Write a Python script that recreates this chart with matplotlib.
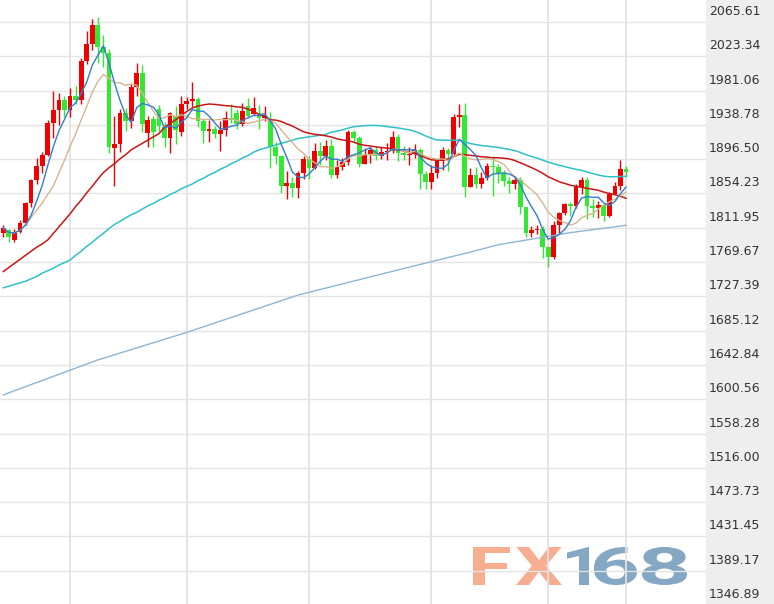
import numpy as np
import pandas as pd
import matplotlib
matplotlib.use('Agg')
import matplotlib.pyplot as plt
from matplotlib import transforms
from matplotlib.textpath import TextPath
from matplotlib.patches import PathPatch
from matplotlib.font_manager import FontProperties

# daily gold candles, 2020-07-15 .. 2020-12-18
dates = pd.bdate_range('2020-07-15', '2020-12-18')
opens = [1806, 1809, 1797, 1807, 1818, 1842, 1871, 1888, 1902, 1941, 1957, 1970, 1957,
         1975, 1969, 2018, 2038, 2062, 2035, 2028, 1910, 1915, 1954, 1944, 1985, 2003, 1929, 1946,
         1958, 1936, 1922, 1950, 1930, 1964,
         1968, 1971, 1944, 1931, 1934, 1928, 1932, 1947, 1954, 1940, 1962, 1952, 1953, 1947,
         1944, 1911, 1900, 1864, 1867, 1861, 1880, 1897,
         1886, 1906, 1900, 1913, 1877, 1887, 1893, 1930, 1922, 1891, 1902, 1908, 1900, 1905,
         1907, 1924, 1904, 1902, 1903, 1908, 1878, 1868,
         1879, 1894, 1908, 1903, 1949, 1951, 1862, 1877, 1866, 1873, 1888, 1887, 1880, 1870,
         1866, 1871, 1837, 1806, 1809, 1811, 1788,
         1776, 1815, 1830, 1841, 1839, 1862, 1871, 1839, 1836, 1840, 1827, 1854, 1864, 1885]
highs = [1815, 1811, 1810, 1821, 1844, 1872, 1898, 1905, 1945, 1981, 1978, 1975, 1984,
         1987, 2021, 2055, 2069, 2072, 2049, 2032, 1950, 1958, 1960, 1989, 2015, 2013, 1950, 1950,
         1963, 1942, 1955, 1962, 1975, 1973,
         1992, 1973, 1946, 1945, 1937, 1944, 1956, 1965, 1958, 1966, 1972, 1973, 1963, 1962,
         1955, 1918, 1901, 1882, 1875, 1882, 1900, 1901,
         1916, 1918, 1920, 1921, 1895, 1898, 1933, 1933, 1925, 1910, 1912, 1913, 1912, 1916,
         1931, 1928, 1913, 1912, 1915, 1910, 1882, 1889,
         1897, 1911, 1910, 1952, 1965, 1966, 1886, 1887, 1881, 1892, 1900, 1891, 1883, 1874,
         1876, 1875, 1838, 1814, 1815, 1814, 1790,
         1820, 1832, 1843, 1844, 1866, 1875, 1875, 1848, 1845, 1843, 1856, 1868, 1896, 1888]
lows = [1800, 1795, 1794, 1805, 1815, 1838, 1866, 1880, 1900, 1923, 1939, 1948, 1948,
        1964, 1964, 2014, 2031, 2015, 2010, 1904, 1863, 1905, 1931, 1935, 1975, 1930, 1912, 1911,
        1930, 1911, 1904, 1915, 1925, 1958,
        1961, 1936, 1916, 1918, 1922, 1906, 1925, 1941, 1934, 1937, 1947, 1951, 1934, 1943,
        1886, 1891, 1855, 1848, 1850, 1849, 1872, 1872,
        1884, 1889, 1895, 1873, 1873, 1883, 1889, 1917, 1887, 1890, 1892, 1896, 1897, 1896,
        1904, 1894, 1895, 1889, 1898, 1860, 1860, 1860,
        1873, 1883, 1882, 1900, 1936, 1850, 1862, 1861, 1861, 1871, 1851, 1867, 1864, 1855,
        1860, 1829, 1800, 1800, 1804, 1775, 1764,
        1774, 1806, 1828, 1826, 1836, 1853, 1823, 1825, 1824, 1820, 1825, 1852, 1859, 1875]
closes = [1812, 1800, 1805, 1818, 1842, 1871, 1888, 1902, 1941, 1957, 1970, 1957, 1975,
          1969, 2018, 2038, 2062, 2035, 2028, 1912, 1915, 1954, 1944, 1985, 2003, 1940, 1945, 1930,
          1938, 1922, 1953, 1932, 1964, 1968,
          1971, 1944, 1931, 1934, 1928, 1932, 1947, 1945, 1940, 1956, 1950, 1960, 1947, 1951,
          1911, 1900, 1864, 1867, 1861, 1880, 1897, 1886,
          1906, 1900, 1913, 1877, 1887, 1893, 1930, 1922, 1891, 1902, 1908, 1900, 1905, 1907,
          1924, 1904, 1902, 1903, 1908, 1878, 1868, 1879,
          1894, 1908, 1903, 1949, 1951, 1862, 1877, 1866, 1873, 1888, 1887, 1880, 1870, 1866,
          1871, 1837, 1806, 1809, 1811, 1788, 1776,
          1815, 1830, 1841, 1839, 1862, 1871, 1839, 1836, 1840, 1827, 1854, 1864, 1885, 1881]

# start of the MA30 / MA60 lines (their windows reach before the first candle)
ma30_head = [1758, 1763, 1768, 1773, 1778, 1783, 1788, 1792, 1797, 1805, 1813, 1821, 1829,
             1838, 1846, 1855, 1863, 1872, 1880, 1886, 1891, 1897, 1902, 1908, 1912, 1916,
             1920, 1924, 1928]
ma60_head = [1738, 1740, 1742, 1744, 1746, 1749, 1752, 1756, 1759, 1762, 1766, 1769, 1772,
             1778, 1783, 1789, 1794, 1800, 1805, 1811, 1816, 1820, 1824, 1828, 1831, 1835,
             1839, 1842, 1846, 1849, 1853, 1856, 1860, 1863, 1866, 1870, 1873, 1877, 1880,
             1884, 1887, 1891, 1894, 1898, 1901, 1905, 1908, 1910, 1912, 1914, 1916, 1918,
             1920, 1922, 1923, 1924, 1925, 1926, 1927]
# long average (candle index, value)
slow_idx = [0, 17, 33, 53, 71, 84, 89, 102, 112]
slow_val = [1606, 1649, 1683, 1729, 1760, 1782, 1791, 1806, 1815]

ticks = [2065.61, 2023.34, 1981.06, 1938.78, 1896.50, 1854.23, 1811.95, 1769.67, 1727.39,
         1685.12, 1642.84, 1600.56, 1558.28, 1516.00, 1473.73, 1431.45, 1389.17, 1346.89]

df = pd.DataFrame({'open': opens, 'high': highs, 'low': lows, 'close': closes}, index=dates)
df['ma5'] = df['close'].rolling(5, min_periods=1).mean()
df['ma10'] = df['close'].rolling(10, min_periods=1).mean()
df['ma30'] = df['close'].rolling(30).mean()
df.iloc[:len(ma30_head), df.columns.get_loc('ma30')] = ma30_head
df['ma60'] = df['close'].rolling(60).mean()
df.iloc[:len(ma60_head), df.columns.get_loc('ma60')] = ma60_head
x = np.arange(len(df))

fig = plt.figure(figsize=(7.74, 6.04), dpi=100)
fig.patch.set_facecolor('white')
fig.add_artist(plt.Rectangle((706 / 774, 0), 68 / 774, 1, transform=fig.transFigure,
                             color='#eeeeee', zorder=0))
ax = fig.add_axes([0, 0, 706 / 774, 1])
ax.set_facecolor('white')
for s in ax.spines.values():
    s.set_visible(False)
ax.set_xticks([])
ax.set_yticks([])

step = ticks[0] - ticks[1]
ax.set_ylim(ticks[0] - step * 582 / 34.29, ticks[0] + step * 22 / 34.29)
ax.set_xlim(-3.3 / 5.56, (706 - 3.3) / 5.56)

# grid
for t in ticks:
    ax.axhline(t, color='#e4e4e4', lw=1.0, zorder=1)
month_end = [i for i in range(len(df) - 1) if dates[i].month != dates[i + 1].month] + [len(df) - 1]
for i in month_end:
    ax.axvline(i, color='#e2e2e2', lw=1.3, zorder=1)

# FX168 watermark, each glyph stretched into its box (pixels)
fp = FontProperties(family='Roboto', weight='bold')
for ch, x0, x1, col in [('F', 473, 510, '#f6ad90'), ('X', 516, 562, '#f6ad90'),
                        ('1', 567, 589, '#84a7c4'), ('6', 594, 637, '#84a7c4'),
                        ('8', 642, 687, '#84a7c4')]:
    tp = TextPath((0, 0), ch, size=100, prop=fp)
    ext = tp.get_extents()
    tr = (transforms.Affine2D().translate(-ext.x0, -ext.y0)
          .scale((x1 - x0) / ext.width, 38 / ext.height).translate(x0, 604 - 585))
    ax.add_patch(PathPatch(tr.transform_path(tp), transform=transforms.IdentityTransform(),
                           facecolor=col, edgecolor='none', zorder=0.5))

# candles
up = df['close'] >= df['open']
colors = np.where(up, '#f00000', '#33e833')
ax.vlines(x, df['low'], df['high'], colors=colors, lw=1.0, zorder=2)
body = np.maximum((df['close'] - df['open']).abs(), 1.0)
ax.bar(x, body, bottom=np.minimum(df['open'], df['close']), width=0.86, color=colors, zorder=3)

# moving averages
ax.plot(slow_idx, slow_val, color='#8cb6d2', lw=1.0, zorder=4)
ax.plot(x, df['ma60'], color='#30c0c8', lw=1.1, zorder=4)
ax.plot(x, df['ma30'], color='#cc1515', lw=1.1, zorder=4)
ax.plot(x, df['ma10'], color='#d8b48e', lw=1.0, zorder=4)
ax.plot(x, df['ma5'], color='#2f7fd0', lw=1.0, zorder=4)

# price labels on the right panel
trans = transforms.offset_copy(transforms.blended_transform_factory(fig.transFigure, ax.transData),
                               fig=fig, x=0, y=10.5, units='dots')
for t in ticks:
    fig.text(709 / 774, t, '%.2f' % t, transform=trans, ha='left', va='center',
             fontsize=9, color='#333333', clip_on=False)

fig.savefig('out.png', dpi=100)
